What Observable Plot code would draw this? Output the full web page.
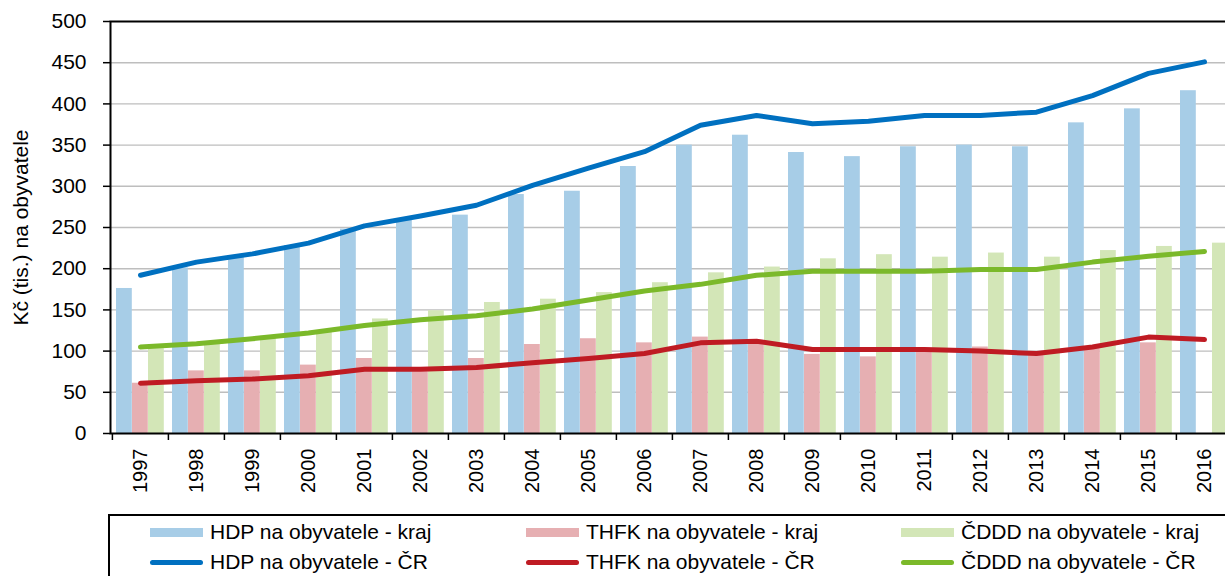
<!DOCTYPE html>
<html><head><meta charset="utf-8">
<script src="https://cdn.jsdelivr.net/npm/d3@7"></script>
<script src="https://cdn.jsdelivr.net/npm/@observablehq/plot@0.6"></script>
<style>
html,body{margin:0;padding:0;background:#fff;overflow:hidden;width:1225px;height:576px;position:relative;}
#chart svg{max-width:none !important;display:block;}
#legendBox{position:absolute;left:108px;top:514px;width:1200px;height:80px;border:2px solid #000;box-sizing:border-box;}
.item{position:absolute;height:30px;display:flex;align-items:center;font-family:"Liberation Sans",Arial,sans-serif;font-size:21px;color:#000;white-space:nowrap;}
.sw{display:inline-block;width:53px;margin-right:7px;}
</style></head><body>
<div id="chart"></div>
<div id="legendBox"></div>
<div id="legend"></div>
<script>
// ---- data ----
const years = ["1997","1998","1999","2000","2001","2002","2003","2004","2005","2006","2007","2008","2009","2010","2011","2012","2013","2014","2015","2016"];
const hdpKraj  = [176, 201, 214, 228, 248, 260, 265, 290, 294, 324, 350, 362, 341, 336, 348, 350, 348, 377, 394, 416];
const thfkKraj = [61, 76, 76, 83, 91, 75, 91, 108, 115, 110, 117, 110, 96, 93, 102, 105, 98, 104, 110, null];
const cdddKraj = [103, 109, 118, 125, 139, 149, 159, 163, 171, 183, 195, 202, 212, 217, 214, 219, 214, 222, 227, 231];
const hdpCR  = [192, 208, 218, 231, 252, 264, 277, 301, 322, 342, 374, 386, 376, 379, 386, 386, 390, 410, 437, 451];
const thfkCR = [61, 64, 66, 70, 78, 78, 80, 86, 91, 97, 110, 112, 102, 102, 102, 100, 97, 105, 117, 114];
const cdddCR = [105, 109, 115, 122, 131, 138, 143, 151, 162, 173, 181, 192, 197, 197, 197, 199, 199, 208, 215, 221];
const yTicks = [0, 50, 100, 150, 200, 250, 300, 350, 400, 450, 500];
const gridValues = [50, 100, 150, 200, 250, 300, 350, 400, 450];
const barSeries = ["HDP na obyvatele - kraj", "THFK na obyvatele - kraj", "ČDDD na obyvatele - kraj"];
const lineSeries = ["HDP na obyvatele - ČR", "THFK na obyvatele - ČR", "ČDDD na obyvatele - ČR"];
const yLabel = "Kč (tis.) na obyvatele";

// ---- styles ----
const barColors = ["#A7CDE7", "#E6AFB2", "#D3E6B7"];
const lineColors = ["#0070C0", "#BF1B23", "#7BB92A"];

const W = 1234, H = 512, ML = 110, MR = 0, MT = 21, MB = 79;
const bw = (W - ML - MR) / years.length;
const barW = 16, groupLeft = 4;

const barValues = [hdpKraj, thfkKraj, cdddKraj];
const lineValues = [hdpCR, thfkCR, cdddCR];

const barMarks = barValues.map((vals, k) =>
  Plot.barY(years.map((y, i) => ({year: y, value: vals[i]})).filter(d => d.value != null), {
    x: "year", y: "value", fill: barColors[k],
    insetLeft: groupLeft + k * barW,
    insetRight: bw - groupLeft - (k + 1) * barW
  })
);
const lineMarks = lineValues.map((vals, k) =>
  Plot.line(years.map((y, i) => ({year: y, value: vals[i]})), {
    x: "year", y: "value", stroke: lineColors[k], strokeWidth: 5,
    strokeLinecap: "round", strokeLinejoin: "round"
  })
);

const chart = Plot.plot({
  width: W, height: H,
  marginLeft: ML, marginRight: MR, marginTop: MT, marginBottom: MB,
  style: {fontFamily: "'Liberation Sans', Arial, sans-serif", fontSize: "21px", background: "#fff", color: "#000"},
  x: {type: "band", domain: years, padding: 0},
  y: {domain: [0, 500]},
  marks: [
    Plot.ruleY(gridValues, {stroke: "#BEBEBE", strokeWidth: 1.4}),
    ...barMarks,
    ...lineMarks,
    Plot.frame({stroke: "#000", strokeWidth: 2}),
    Plot.axisY({ticks: yTicks, tickSize: 7, tickPadding: 17, strokeWidth: 1.5,
      label: yLabel, labelAnchor: "center", labelOffset: 97, labelArrow: "none"}),
    Plot.axisX({tickSize: 0, tickPadding: 15, tickRotate: -90, fontSize: 20, label: null}),
    Plot.axisX({tickSize: 7, text: null, dx: -bw / 2, strokeWidth: 1.5, label: null})
  ]
});
document.getElementById("chart").appendChild(chart);

// ---- legend ----
const legendCols = [150, 526, 901];
const legendRows = [532, 562];
const legend = document.getElementById("legend");
[barSeries, lineSeries].forEach((names, r) => {
  names.forEach((name, c) => {
    const item = document.createElement("div");
    item.className = "item";
    item.style.left = legendCols[c] + "px";
    item.style.top = (legendRows[r] - 15) + "px";
    const sw = document.createElement("span");
    sw.className = "sw";
    if (r === 0) { sw.style.height = "9px"; sw.style.background = barColors[c]; }
    else { sw.style.height = "5px"; sw.style.background = lineColors[c]; sw.style.borderRadius = "3px"; }
    item.appendChild(sw);
    const t = document.createElement("span");
    t.textContent = name;
    item.appendChild(t);
    legend.appendChild(item);
  });
});
</script>
</body></html>
